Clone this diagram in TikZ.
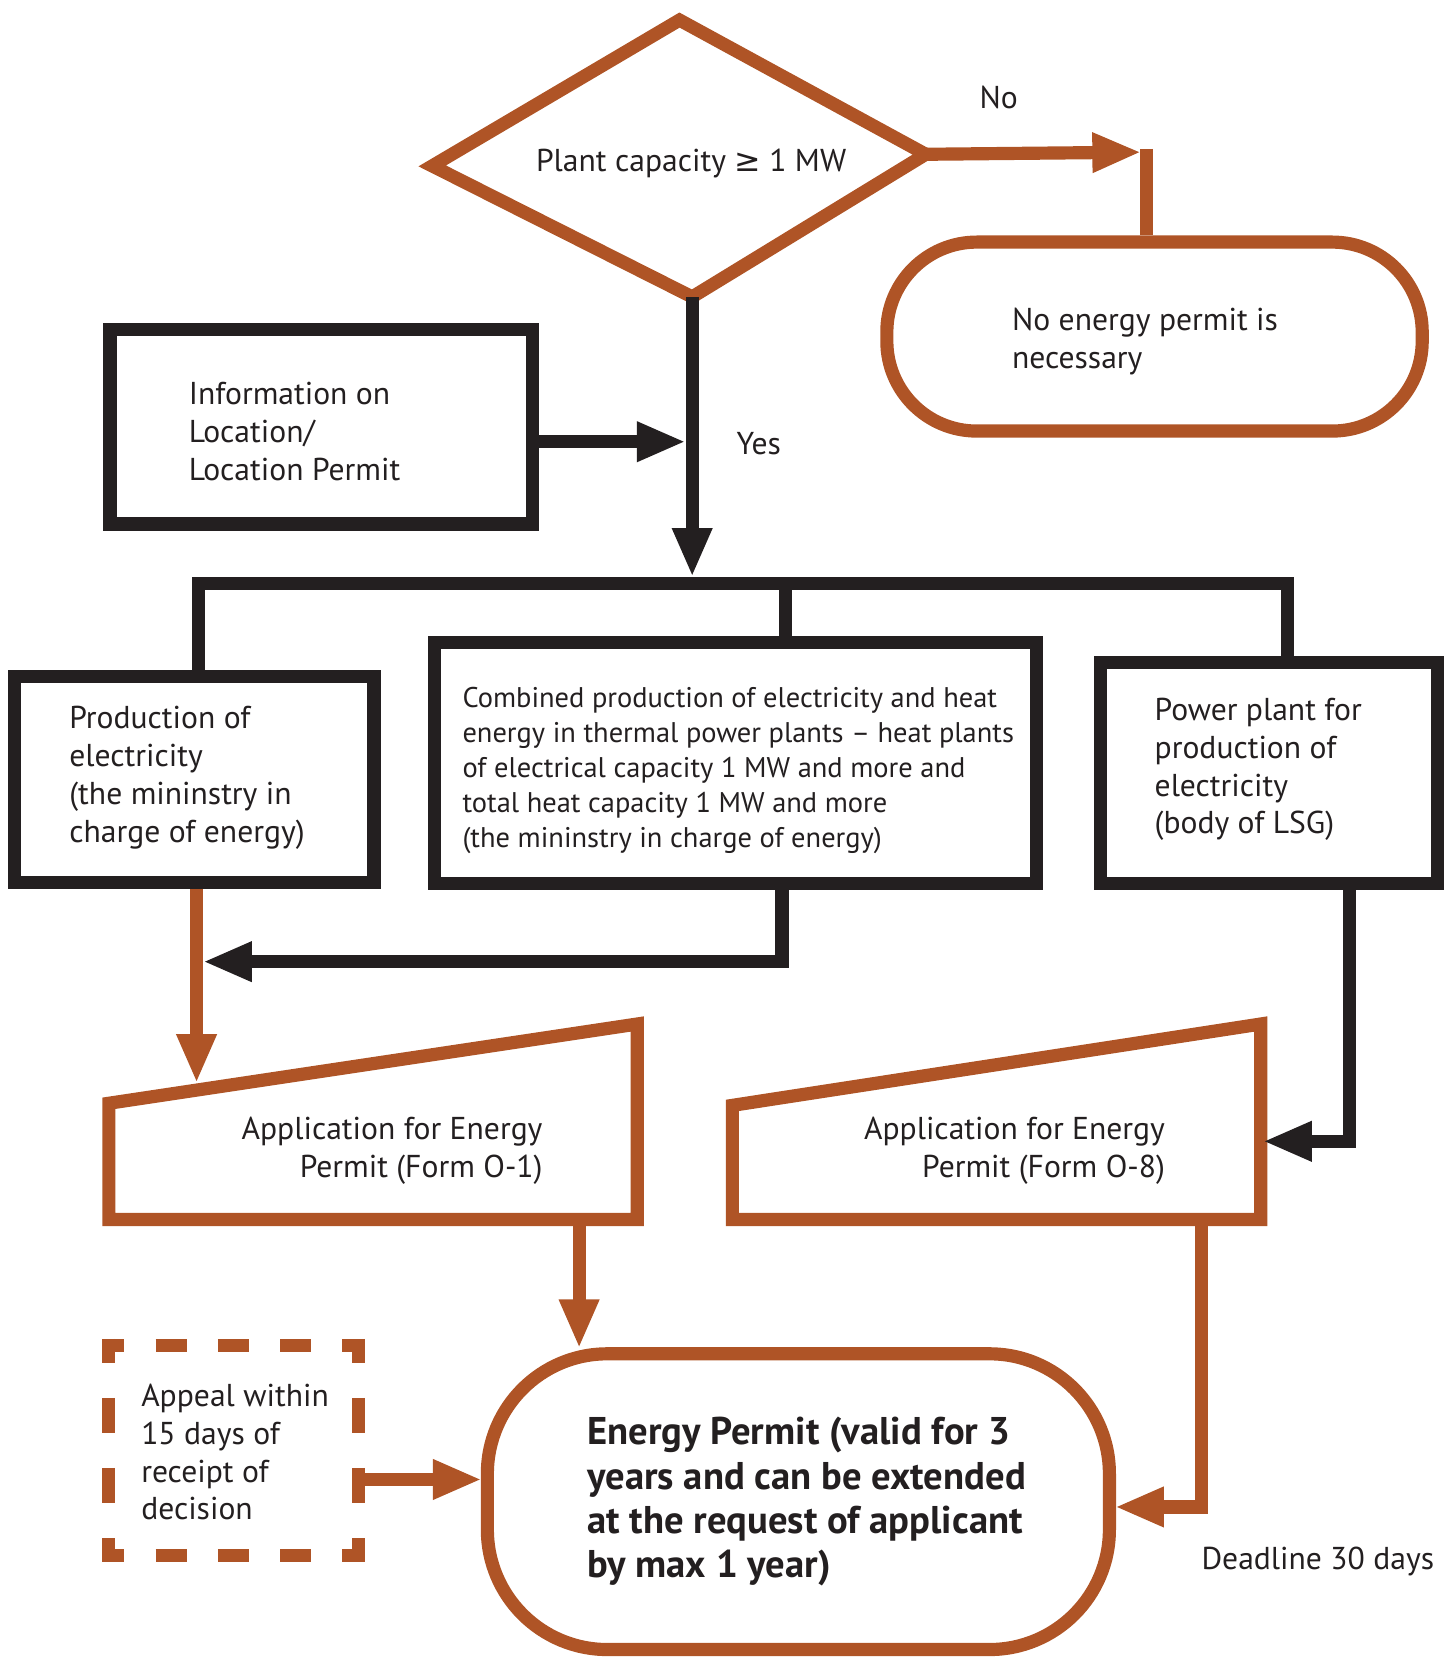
\documentclass[tikz,border=0pt]{standalone}
\usepackage{fontspec}
\setmainfont{PT Sans}
\newfontfamily\symfont{DejaVu Sans}
\usetikzlibrary{arrows.meta}
\definecolor{rust}{RGB}{175,84,38}
\definecolor{ink}{RGB}{35,31,32}

\begin{document}
\begin{tikzpicture}[x=0.010567cm, y=-0.010567cm,
  every node/.style={font=\fontsize{9}{10.8}\selectfont, text=ink, inner sep=0pt},
  obox/.style={draw=rust, line width=3.75pt},
  bbox/.style={draw=ink, line width=3.75pt},
  oline/.style={draw=rust, line width=3.75pt},
  bline/.style={draw=ink, line width=3.75pt},
  oarrow/.style={oline, -{Triangle[length=4.9mm,width=3.7mm]}},
  barrow/.style={bline, -{Triangle[length=4.9mm,width=3.7mm]}},
  txt/.style={align=left, anchor=west}]
  % 1 unit = 1 px of the 1376 x 1568 page, y grows downwards
  \useasboundingbox (0,0) rectangle (1376,1568);

  % ---- Decision: plant capacity ----
  \coordinate (capN) at (643,19);
  \coordinate (capE) at (876,146);
  \coordinate (capS) at (655,281);
  \coordinate (capW) at (409,157);
  \draw[oline, line join=miter] (capN) -- (capE) -- (capS) -- (capW) -- cycle;
  \node (cap) at (654,155) {Plant capacity {\symfont ≥} 1 MW};

  % ---- No: no permit needed ----
  \node[obox, rounded corners=0.9cm, minimum width=5.357cm, minimum height=1.891cm] (noperm) at (1092.5,318.5) {};
  \node[txt] (nopermT) at (957,323) {No energy permit is\\necessary};
  \coordinate (noTip) at (1080,144);
  \coordinate (noJoin) at (1085,141);
  \draw[oarrow] (capE) -- (noTip);
  \draw[oline] (noJoin) -- (noJoin |- noperm.north);
  \node (no) at (945,92) {No};

  % ---- Location info ----
  \node[bbox, minimum width=4.227cm, minimum height=1.944cm] (info) at (304,404) {};
  \node[txt] (infoT) at (178,408) {Information on\\Location/\\Location Permit};
  \coordinate (yesTip) at (649,418);
  \draw[barrow] (info.east |- yesTip) -- (yesTip);
  \node (yes) at (718,420) {Yes};

  % ---- Yes: split into three cases ----
  \coordinate (busTop) at (655,546);
  \draw[barrow] (capS) -- (busTop);
  \coordinate (busL) at (188,552);
  \coordinate (busM) at (743,552);
  \coordinate (busR) at (1218,552);

  \node[bbox, minimum width=3.593cm, minimum height=2.061cm] (prod) at (184,737.5) {};
  \node[txt] (prodT) at (65,736) {Production of\\electricity\\(the mininstry in\\charge of energy)};

  \node[bbox, minimum width=6.023cm, minimum height=2.409cm] (chp) at (696,722) {};
  \node[txt, font=\fontsize{8.1}{10}\selectfont] (chpT) at (437,729) {Combined production of electricity and heat\\energy in thermal power plants -- heat plants\\of electrical capacity 1 MW and more and\\total heat capacity 1 MW and more\\(the mininstry in charge of energy)};

  \node[bbox, minimum width=3.371cm, minimum height=2.208cm] (lsg) at (1200.5,731.5) {};
  \node[txt] (lsgT) at (1092,728) {Power plant for\\production of\\electricity\\(body of LSG)};

  \draw[bline] (busL |- prod.north) -- (busL) -- (busR) -- (busR |- lsg.north);
  \draw[bline] (busM) -- (busM |- chp.north);

  % ---- Applications ----
  \coordinate (o1NW) at (103,1044);
  \coordinate (o1NE) at (603,969);
  \coordinate (o1SE) at (603,1154);
  \coordinate (o1SW) at (103,1154);
  \draw[oline] (o1NW) -- (o1NE) -- (o1SE) -- (o1SW) -- cycle;
  \node[align=right, anchor=east] (o1T) at (514,1089) {Application for Energy\\Permit (Form O-1)};

  \coordinate (o8NW) at (693,1046);
  \coordinate (o8NE) at (1193,969);
  \coordinate (o8SE) at (1193,1154);
  \coordinate (o8SW) at (693,1154);
  \draw[oline] (o8NW) -- (o8NE) -- (o8SE) -- (o8SW) -- cycle;
  \node[align=right, anchor=east] (o8T) at (1103,1089) {Application for Energy\\Permit (Form O-8)};

  \coordinate (o1In) at (186,1025);
  \draw[oarrow] (prod.south -| o1In) -- (o1In);
  \coordinate (chpTurn) at (740,910);
  \coordinate (chpTip) at (192,910);
  \draw[barrow] (chp.south -| chpTurn) -- (chpTurn) -- (chpTip);
  \coordinate (lsgTurn) at (1277,1080);
  \coordinate (o8In) at (1195,1080);
  \draw[barrow] (lsg.south -| lsgTurn) -- (lsgTurn) -- (o8In);

  % ---- Energy permit ----
  \node[obox, rounded corners=1.2cm, minimum width=6.224cm, minimum height=2.959cm] (permit) at (755.5,1421) {};
  \node[txt, font=\fontsize{11}{12.6}\selectfont\bfseries] (permitT) at (555,1421) {Energy Permit (valid for 3\\years and can be extended\\at the request of applicant\\by max 1 year)};

  \coordinate (o1Out) at (548,1154);
  \coordinate (permitN) at (548,1276);
  \draw[oarrow] (o1Out) -- (permitN);
  \coordinate (o8Out) at (1137,1154);
  \coordinate (o8Turn) at (1137,1426);
  \coordinate (permitE) at (1055,1426);
  \draw[oarrow] (o8Out) -- (o8Turn) -- (permitE);
  \node (deadline) at (1247,1478) {Deadline 30 days};

  % ---- Appeal ----
  \node[minimum width=2.494cm, minimum height=2.103cm] (appeal) at (221,1372.5) {};
  \draw[rust, line width=3.75pt, dash pattern=on 0.3117cm off 0.3117cm, dash phase=0.0925cm]
    (97,1273) -- (345,1273) (97,1472) -- (345,1472);
  \draw[rust, line width=3.75pt, dash pattern=on 0.3508cm off 0.3508cm, dash phase=0.112cm]
    (103,1267) -- (103,1478) (339,1267) -- (339,1478);
  \node[txt] (appealT) at (133,1374) {Appeal within\\15 days of\\receipt of\\decision};
  \coordinate (appealY) at (339,1400);
  \coordinate (permitW) at (456,1400);
  \draw[oarrow] (appeal.east |- appealY) -- (permitW);
\end{tikzpicture}
\end{document}
